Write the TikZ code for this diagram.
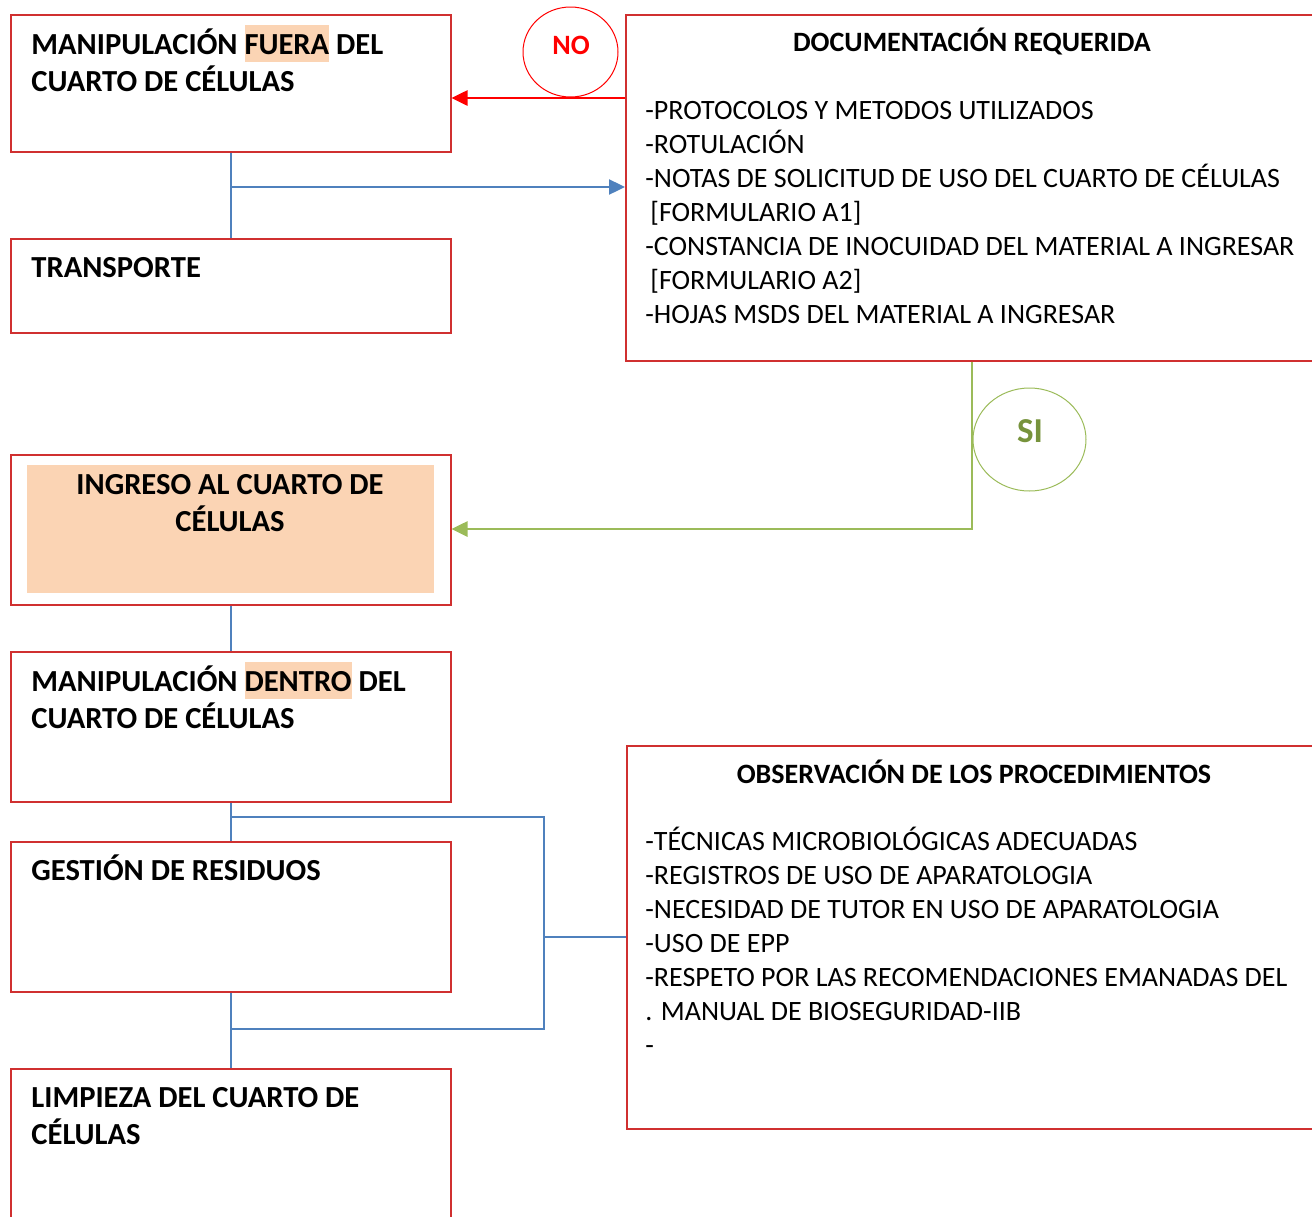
\documentclass[tikz,border=0pt]{standalone}
\usepackage{fontspec}
\setmainfont{Carlito}
\usepackage{tikz}
\usetikzlibrary{arrows.meta,shapes.geometric}

\definecolor{boxred}{RGB}{208,48,48}
\definecolor{nored}{RGB}{255,0,0}
\definecolor{lineblue}{RGB}{79,129,189}
\definecolor{linegreen}{RGB}{155,187,89}
\definecolor{sigreen}{RGB}{119,147,60}
\definecolor{peach}{RGB}{251,212,180}

\newcommand\hlt[1]{{\setlength{\fboxsep}{0pt}\colorbox{peach}{\rule[-4pt]{0pt}{18.5pt}#1}}}

\begin{document}
\begin{tikzpicture}[x=0.5pt,y=-0.5pt,
  caja/.style n args={2}{draw=boxred,line width=0.75pt,rectangle,anchor=north west,inner sep=0pt,minimum width=#1,minimum height=#2},
  tit/.style={font=\fontsize{15.3}{18.5}\selectfont\bfseries,anchor=base west,inner sep=0pt,text width=215pt,align=flush left},
  titc/.style={font=\fontsize{14}{17}\selectfont\bfseries,anchor=base,inner sep=0pt},
  lista/.style={font=\fontsize{14}{17}\selectfont,anchor=base west,inner sep=0pt,text width=330pt,align=flush left},
  bl/.style={draw=lineblue,line width=1.2pt},
  flecha/.style={-{Triangle[length=8pt,width=7.5pt,fill=#1]}},
  burbuja/.style={ellipse,draw=#1,line width=0.5pt,inner sep=0pt}]

\useasboundingbox (0,0) rectangle (1312,1216);
\clip (0,0) rectangle (1312,1216);

% cajas de la izquierda
\node[caja={220pt}{68.5pt}] (fuera) at (10,14) {};
\node[caja={220pt}{47pt}] (transp) at (10,238) {};
\node[caja={220pt}{75pt}] (ingreso) at (10,454) {};
\node[caja={220pt}{75pt}] (dentro) at (10,651) {};
\node[caja={220pt}{75pt}] (resid) at (10,841) {};
\node[caja={220pt}{100pt}] (limp) at (10,1068) {};
\fill[peach] (27,465) rectangle (434,593);

% cajas de la derecha
\node[caja={360pt}{173pt}] (docs) at (625,14) {};
\node[caja={360pt}{191.5pt}] (obs) at (626,745) {};

% textos
\node[tit] (fueraT) at (31,54) {MANIPULACIÓN \hlt{FUERA} DEL\\CUARTO DE CÉLULAS};
\node[tit] (transpT) at (31,277) {TRANSPORTE};
\node[tit,anchor=base,align=flush center] (ingresoT) at (230,494) {INGRESO AL CUARTO DE\\CÉLULAS};
\node[tit] (dentroT) at (31,691) {MANIPULACIÓN \hlt{DENTRO} DEL\\CUARTO DE CÉLULAS};
\node[tit] (residT) at (31,880) {GESTIÓN DE RESIDUOS};
\node[tit] (limpT) at (31,1107) {LIMPIEZA DEL CUARTO DE\\CÉLULAS};

\node[titc] (docsT) at (972,51) {DOCUMENTACIÓN REQUERIDA};
\node[lista] (docsL) at (645,119) {-PROTOCOLOS Y METODOS UTILIZADOS\\
  -ROTULACIÓN\\
  -NOTAS DE SOLICITUD DE USO DEL CUARTO DE CÉLULAS\\
  \hspace*{2.5pt}[FORMULARIO A1]\\
  -CONSTANCIA DE INOCUIDAD DEL MATERIAL A INGRESAR\\
  \hspace*{2.5pt}[FORMULARIO A2]\\
  -HOJAS MSDS DEL MATERIAL A INGRESAR};

\node[titc] (obsT) at (974,783) {OBSERVACIÓN DE LOS PROCEDIMIENTOS};
\node[lista] (obsL) at (645,850) {-TÉCNICAS MICROBIOLÓGICAS ADECUADAS\\
  -REGISTROS DE USO DE APARATOLOGIA\\
  -NECESIDAD DE TUTOR EN USO DE APARATOLOGIA\\
  -USO DE EPP\\
  -RESPETO POR LAS RECOMENDACIONES EMANADAS DEL\\
  . MANUAL DE BIOSEGURIDAD-IIB\\
  -};

% NO / SI
\node[burbuja=nored,minimum width=47.5pt,minimum height=45pt] (no) at (570.5,52) {};
\node[font=\fontsize{14}{17}\selectfont\bfseries,text=nored,inner sep=0pt] (noT) at (571,45) {NO};
\node[burbuja=linegreen,minimum width=56.5pt,minimum height=51.5pt] (si) at (1029.5,439.5) {};
\node[font=\fontsize{17.5}{21}\selectfont\bfseries,text=sigreen,inner sep=0pt] (siT) at (1030,431) {SI};

% conectores
\coordinate (noA) at (625,98);
\draw[draw=nored,line width=1.3pt,flecha=nored] (noA) -- (fuera.east |- noA);
\coordinate (docIn) at (625,187);
\draw[bl] (fuera.south) -- (transp.north);
\draw[bl,flecha=lineblue] (fuera.south |- docIn) -- (docIn);
\coordinate (siC) at (972,529);
\draw[draw=linegreen,line width=1.3pt,flecha=linegreen] (docs.south -| siC) -- (siC) -- (ingreso.east |- siC);

\draw[bl] (ingreso.south) -- (dentro.north);
\draw[bl] (dentro.south) -- (resid.north);
\draw[bl] (resid.south) -- (limp.north);
\coordinate (brT) at (544,817);
\coordinate (brB) at (544,1029);
\draw[bl] (dentro.south |- brT) -- (brT) -- (brB) -- (resid.south |- brB);
\draw[bl] (brT |- obs.west) -- (obs.west);
\end{tikzpicture}
\end{document}
